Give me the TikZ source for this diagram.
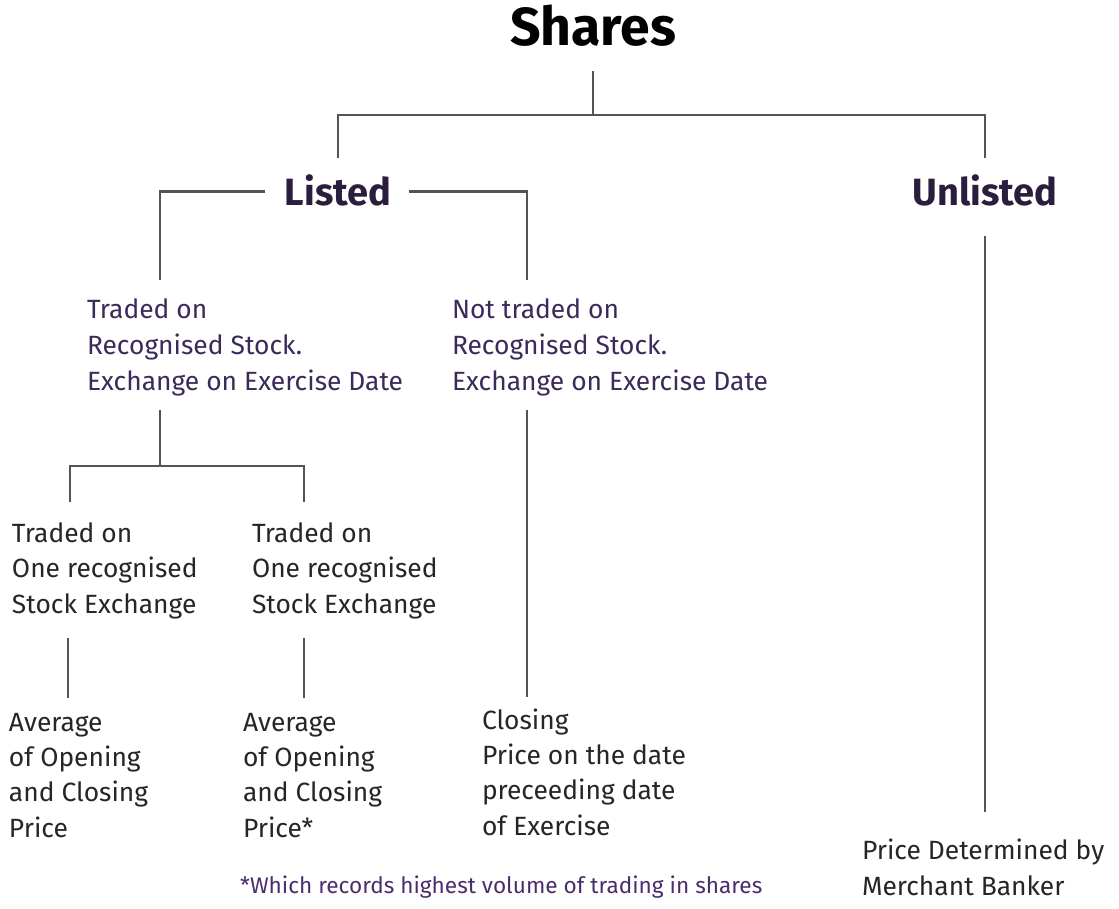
\documentclass[tikz,border=0pt]{standalone}
\usepackage{fontspec}
\setmainfont{Fira Sans}
\definecolor{linegray}{HTML}{555555}
\definecolor{headpurple}{HTML}{2B1D3D}
\definecolor{midpurple}{HTML}{3B2A5A}
\definecolor{bodydark}{HTML}{262626}
\definecolor{notepurple}{HTML}{4B2D6E}
\begin{document}
\begin{tikzpicture}[x=1pt,y=1pt,
  conn/.style={draw=linegray,line width=2.6pt},
  title/.style={inner sep=0pt,outer sep=0pt,anchor=base,text=black,font=\fontsize{53.5}{60}\selectfont\bfseries},
  head/.style={inner sep=0pt,outer sep=0pt,anchor=base,text=headpurple,text height=27pt,text depth=0pt,font=\fontsize{38}{42}\selectfont\bfseries},
  midtext/.style={inner sep=0pt,outer sep=0pt,anchor=base west,align=left,text=midpurple,font=\fontsize{26.4}{35.8}\selectfont},
  leaf/.style={inner sep=0pt,outer sep=0pt,anchor=base west,align=left,text=bodydark,font=\fontsize{26.4}{35.2}\selectfont},
  note/.style={inner sep=0pt,outer sep=0pt,anchor=base west,text=notepurple,font=\fontsize{22.6}{26}\selectfont}]
\useasboundingbox[fill=white] (0,0) rectangle (1119,-908);

% nodes (base anchor = baseline of the last line)
\node[title] (shares) at (593,-45) {Shares};
\node[head] (listed) at (338,-205) {Listed};
\node[head] (unlisted) at (985,-205) {Unlisted};
\node[midtext] (tr) at (87,-390) {Traded on\\Recognised Stock.\\Exchange on Exercise Date};
\node[midtext] (ntr) at (452,-390) {Not traded on\\Recognised Stock.\\Exchange on Exercise Date};
\node[leaf] (one) at (12,-613) {Traded on\\One recognised\\Stock Exchange};
\node[leaf] (two) at (252,-613) {Traded on\\One recognised\\Stock Exchange};
\node[leaf] (avg1) at (9,-837) {Average\\of Opening\\and Closing\\Price};
\node[leaf] (avg2) at (243,-837) {Average\\of Opening\\and Closing\\Price*};
\node[leaf] (close) at (482,-835) {Closing\\Price on the date\\preceeding date\\of Exercise};
\node[leaf] (merch) at (862,-895) {Price Determined by\\Merchant Banker};
\node[note] (fn) at (240,-893) {*Which records highest volume of trading in shares};

% junction / end coordinates
\coordinate (top) at (593,-115);
\coordinate (trtop) at (160,-280);
\coordinate (ntrtop) at (527,-280);
\coordinate (trbot) at (160,-410);
\coordinate (split) at (160,-466);
\coordinate (onetop) at (70,-502);
\coordinate (twotop) at (304,-502);
\coordinate (onebot) at (68,-638);
\coordinate (avg1top) at (68,-698);
\coordinate (twobot) at (304,-638);
\coordinate (avg2top) at (304,-698);
\coordinate (ntrbot) at (527,-410);
\coordinate (closetop) at (527,-697);
\coordinate (unbot) at (985,-236);
\coordinate (merchtop) at (985,-812);

% connectors
\draw[conn] ([yshift=-25pt]shares.south) -- (top);
\draw[conn] ([yshift=20pt]listed.north) |- (top) -| ([yshift=20pt]unlisted.north);
\draw[conn] ([xshift=-20pt]listed.west) -| (trtop);
\draw[conn] ([xshift=18pt]listed.east) -| (ntrtop);
\draw[conn] (trbot) -- (split);
\draw[conn] (onetop) |- (split) -| (twotop);
\draw[conn] (onebot) -- (avg1top);
\draw[conn] (twobot) -- (avg2top);
\draw[conn] (ntrbot) -- (closetop);
\draw[conn] (unbot) -- (merchtop);
\end{tikzpicture}
\end{document}
